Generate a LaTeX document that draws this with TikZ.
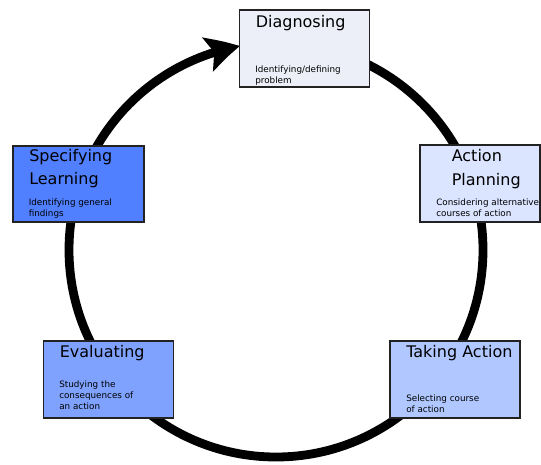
\documentclass[tikz,border=0pt]{standalone}
\usepackage{fontspec}
\setmainfont{DejaVu Sans}
\usetikzlibrary{arrows.meta,bending}
\definecolor{cDiag}{HTML}{ECEFF7}
\definecolor{cSpec}{HTML}{5080FF}
\definecolor{cPlan}{HTML}{DCE5FF}
\definecolor{cEval}{HTML}{80A2FF}
\definecolor{cTake}{HTML}{B0C8FF}
\definecolor{cEdge}{HTML}{222222}
\tikzset{
  stagebox/.style={draw=cEdge, line width=1.1pt, inner sep=0pt, outer sep=0pt, anchor=north west},
  titletext/.style={inner sep=0pt, anchor=base west, align=left, font=\fontsize{12}{17.5}\selectfont, text=black},
  subtext/.style={inner sep=0pt, anchor=base west, align=left, font=\fontsize{6.6}{8}\selectfont, text=black},
  cycleline/.style={line width=6.6pt, black, -{Stealth[length=25pt,width=26pt,inset=5pt,bend]}}
}
\begin{document}
\begin{tikzpicture}[x=0.75pt,y=-0.75pt]
\useasboundingbox (0,0) rectangle (541,464);
\coordinate (ctr) at (276,250);
\draw[cycleline] (ctr) ++(-90:207) arc[start angle=-90, end angle=260, radius=207];
% boxes
\node[stagebox, fill=cDiag, minimum width=130*0.75pt, minimum height=77*0.75pt] (diag) at (239.5,10) {};
\node[stagebox, fill=cSpec, minimum width=131*0.75pt, minimum height=76*0.75pt] (spec) at (13,146) {};
\node[stagebox, fill=cPlan, minimum width=120*0.75pt, minimum height=77*0.75pt] (plan) at (420,145) {};
\node[stagebox, fill=cEval, minimum width=130*0.75pt, minimum height=77*0.75pt] (eval) at (43.5,341) {};
\node[stagebox, fill=cTake, minimum width=130*0.75pt, minimum height=77*0.75pt] (take) at (390,341) {};
% texts (base anchor = baseline of the last line)
\node[titletext] (diagT) at (255.5,27) {Diagnosing};
\node[subtext] (diagS) at (255,83) {Identifying/defining\\problem};
\node[titletext] (specT) at (29,184.5) {Specifying\\Learning};
\node[subtext] (specS) at (28.5,216.5) {Identifying general\\findings};
\node[titletext] (planT) at (451.5,185) {Action\\Planning};
\node[subtext] (planS) at (436,216) {Considering alternative\\courses of action};
\node[titletext] (evalT) at (59.5,357) {Evaluating};
\node[subtext] (evalS) at (59,409) {Studying the\\consequences of\\an action};
\node[titletext] (takeT) at (406,357.5) {Taking Action};
\node[subtext] (takeS) at (406,412.5) {Selecting course\\of action};
\end{tikzpicture}
\end{document}
